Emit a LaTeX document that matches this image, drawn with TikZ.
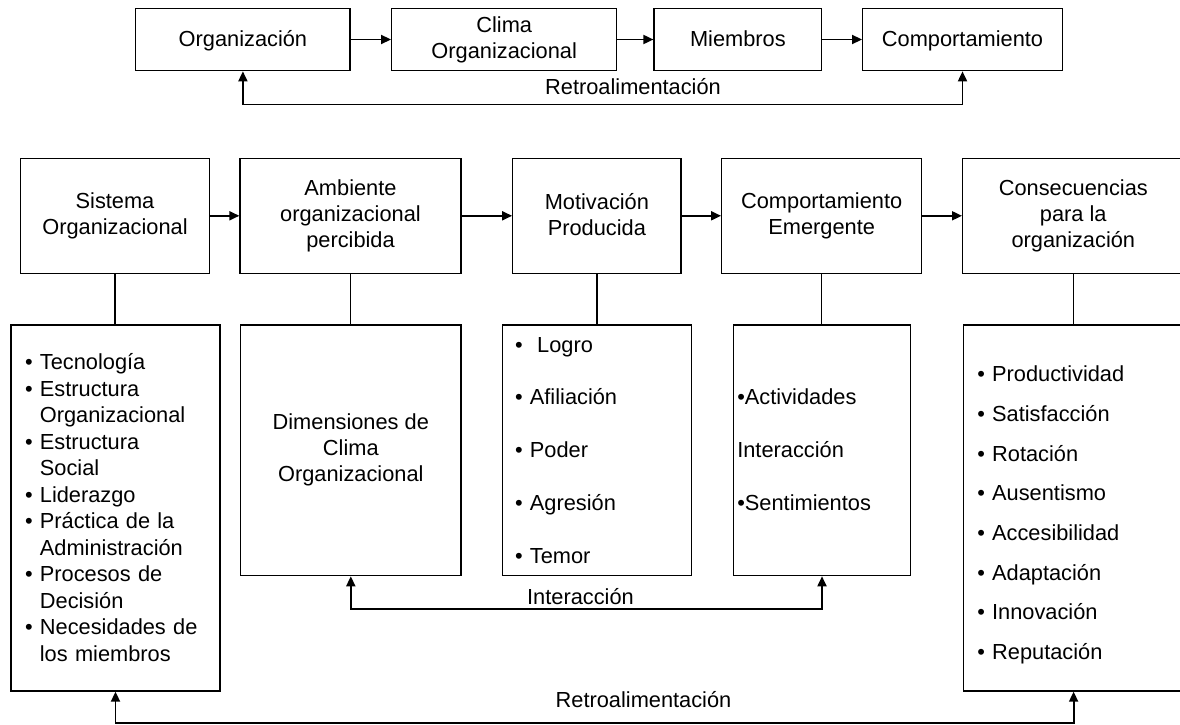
\documentclass[tikz,border=0pt]{standalone}
\usepackage{fontspec}
\setmainfont{Liberation Sans}
\usetikzlibrary{arrows.meta}
\newcommand{\itemgap}{\hphantom{\textbullet\ }}
\newcommand{\boxstrut}{\rule[-3pt]{0pt}{21pt}}

\begin{document}
\begin{tikzpicture}[x=1pt,y=-1pt,
  box/.style={
    draw,
    line width=1.3pt,
    align=center,
    inner sep=0pt,
    font=\fontsize{21.8}{26}\selectfont,
    execute at begin node=\boxstrut,
    execute at end node=\boxstrut
  },
  listbox/.style={
    draw,
    line width=1.3pt,
    align=left,
    inner ysep=0pt,
    execute at begin node=\boxstrut,
    execute at end node=\boxstrut
  },
  lbl/.style={inner sep=0pt,font=\fontsize{21.8}{26}\selectfont},
  link/.style={line width=1.3pt},
  flow/.style={line width=1.8pt,-{Triangle[length=10pt,width=9pt]}},
  back/.style={line width=1.8pt,{Triangle[length=10pt,width=9pt]}-{Triangle[length=10pt,width=9pt]}}
]
\useasboundingbox (0,0) rectangle (1180,725);
% Upper chain
\node[box,minimum width=214.3pt,minimum height=62.4pt] (org) at (242.9,39.5) {Organización};
  \node[box,minimum width=225pt,minimum height=62.4pt] (clima) at (504.2,39.5) {Clima\\Organizacional};
  \node[box,minimum width=167.7pt,minimum height=62.4pt] (miem) at (737.9,39.5) {Miembros};
  \node[box,minimum width=199.6pt,minimum height=62.4pt] (comp) at (962.5,39.5) {Comportamiento};
  \draw[flow] (org) -- (clima);
  \draw[flow] (clima) -- (miem);
  \draw[flow] (miem) -- (comp);
  \coordinate (rett) at (600,104.5);
  \draw[back] (org.south) |- (rett) -| (comp.south);
  \node[lbl] (rettT) at (633,87) {Retroalimentación};
% Lower chain, headers
\node[box,minimum width=188.6pt,minimum height=115pt] (sis) at (115,215.8) {Sistema\\Organizacional};
  \node[box,minimum width=221pt,minimum height=115pt] (amb) at (350.5,215.8) {Ambiente\\organizacional\\percibida};
  \node[box,minimum width=168.3pt,minimum height=115pt] (mot) at (596.9,215.8) {Motivación\\Producida};
  \node[box,minimum width=200pt,minimum height=115pt] (emer) at (821.7,215.8) {Comportamiento\\Emergente};
  \node[box,minimum width=221.3pt,minimum height=115pt] (cons) at (1073.3,215.8) {Consecuencias\\para la\\organización};
  \draw[flow] (sis) -- (amb);
  \draw[flow] (amb) -- (mot);
  \draw[flow] (mot) -- (emer);
  \draw[flow] (emer) -- (cons);
% Lower chain, lists
\node[listbox,inner xsep=14pt,text width=181pt,minimum height=366pt,
    font=\fontsize{21.8}{26.5}\selectfont] (sisL) at (115.5,508) {%
    \textbullet\ Tecnología\\
    \textbullet\ Estructura\\
    \itemgap Organizacional\\
    \textbullet\ Estructura\\
    \itemgap Social\\
    \textbullet\ Liderazgo\\
    \textbullet\ Práctica de la\\
    \itemgap Administración\\
    \textbullet\ Procesos de\\
    \itemgap Decisión\\
    \textbullet\ Necesidades de\\
    \itemgap los miembros};
  \node[box,minimum width=220.3pt,minimum height=250.7pt] (ambL) at (350.8,450.3) {Dimensiones de\\Clima\\Organizacional};
  \node[listbox,inner xsep=12.7pt,text width=164pt,minimum height=250.7pt,
    font=\fontsize{21.8}{52.9}\selectfont] (motL) at (597,450.3) {%
    \textbullet\ \ Logro\\
    \textbullet\ Afiliación\\
    \textbullet\ Poder\\
    \textbullet\ Agresión\\
    \textbullet\ Temor};
  \node[listbox,inner xsep=4pt,text width=169.4pt,minimum height=250.7pt,
    font=\fontsize{21.8}{53}\selectfont] (emerL) at (822,450.3) {%
    \textbullet Actividades\\
    Interacción\\
    \textbullet Sentimientos};
  \node[listbox,inner xsep=14pt,text width=192.7pt,minimum height=366pt,
    font=\fontsize{21.8}{39.7}\selectfont] (consL) at (1073.6,508) {%
    \rule{0pt}{30pt}\textbullet\ Productividad\\
    \textbullet\ Satisfacción\\
    \textbullet\ Rotación\\
    \textbullet\ Ausentismo\\
    \textbullet\ Accesibilidad\\
    \textbullet\ Adaptación\\
    \textbullet\ Innovación\\
    \textbullet\ Reputación};
  \draw[link] (sis.south) -- (sis.south |- sisL.north);
  \draw[link] (amb.south) -- (amb.south |- ambL.north);
  \draw[link] (mot.south) -- (mot.south |- motL.north);
  \draw[link] (emer.south) -- (emer.south |- emerL.north);
  \draw[link] (cons.south) -- (cons.south |- consL.north);
% Feedback loops
\coordinate (intr) at (580,609.3);
  \draw[back] (ambL.south) |- (intr) -| (emerL.south);
  \node[lbl] (intrT) at (580.5,596.7) {Interacción};
  \coordinate (retb) at (600,723.3);
  \draw[back] (sisL.south) |- (retb) -| (consL.south);
  \node[lbl] (retbT) at (643.5,700) {Retroalimentación};
\end{tikzpicture}
\end{document}
